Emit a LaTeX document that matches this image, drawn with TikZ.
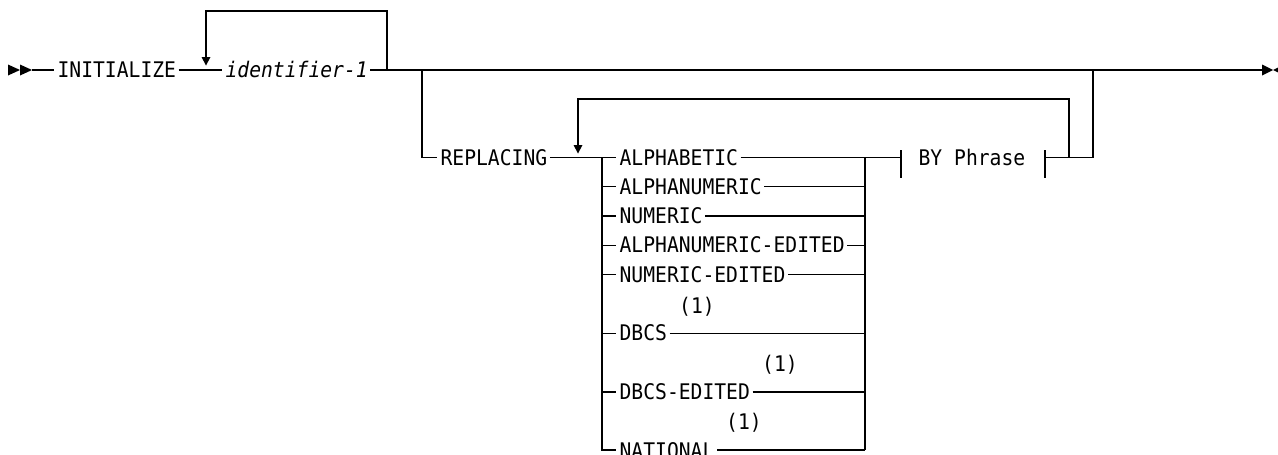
\documentclass[tikz,border=0pt]{standalone}
\usepackage{fontspec}
\setmonofont[FakeStretch=0.915]{DejaVu Sans Mono}
\begin{document}
\begin{tikzpicture}[x=1pt,y=-1pt,line width=1.25pt,
  kw/.style={font=\ttfamily\fontsize{21.5}{21.5}\selectfont,inner sep=0pt,anchor=base west},
  var/.style={kw,font=\ttfamily\itshape\fontsize{21.5}{21.5}\selectfont},
  note/.style={font=\ttfamily\fontsize{21.5}{21.5}\selectfont,inner sep=0pt,anchor=base},
  tip/.style={fill=black,draw=none}]
\useasboundingbox (0,0) rectangle (1278,455);
% text nodes
\node[kw]  (init) at (57,77.5) {INITIALIZE};
\node[var] (id)   at (225,77.5) {identifier-1};
\node[kw]  (repl) at (440,165) {REPLACING};
\node[kw]  (c1) at (619,165) {ALPHABETIC};
\node[kw]  (c2) at (619,194.3) {ALPHANUMERIC};
\node[kw]  (c3) at (619,223.6) {NUMERIC};
\node[kw]  (c4) at (619,252.9) {ALPHANUMERIC-EDITED};
\node[kw]  (c5) at (619,282.2) {NUMERIC-EDITED};
\node[note] (n1) at (697,313) {(1)};
\node[kw]  (c6) at (619,340.8) {DBCS};
\node[note] (n2) at (780,371) {(1)};
\node[kw]  (c7) at (619,399.4) {DBCS-EDITED};
\node[note] (n3) at (744,429) {(1)};
\node[kw]  (c8) at (619,458) {NATIONAL};
\node[kw]  (by) at (918,165) {BY Phrase};
% junction coordinates
\coordinate (s) at (32,70);
\coordinate (a1) at (206,70);
\coordinate (j1) at (387,70);
\coordinate (j2) at (422,70);
\coordinate (j3) at (1093,70);
\coordinate (e) at (1262,70);
\coordinate (b0) at (422,157.5);
\coordinate (a2) at (578,157.5);
\coordinate (L) at (602,157.5);
\coordinate (R) at (865,157.5);
\coordinate (byl) at (901,157.5);
\coordinate (byr) at (1045,157.5);
\coordinate (lp) at (1069,157.5);
\coordinate (rr) at (1093,157.5);
% start / end marks
\fill[tip] (8,64.5) -- (20,70) -- (8,75.5) -- cycle;
\fill[tip] (20,64.5) -- (32,70) -- (20,75.5) -- cycle;
\fill[tip] (e) ++(0,-5.5) -- ++(11,5.5) -- ++(-11,5.5) -- cycle;
\fill[tip] (1284,64.5) -- (1273,70) -- (1284,75.5) -- cycle;
% main line
\draw (s) -- ([xshift=-3pt]init.base west |- s);
\draw ([xshift=2pt]init.base east |- s) -- ([xshift=-3pt]id.base west |- s);
\draw ([xshift=2pt]id.base east |- s) -- (e);
% repeat loop over identifier-1
\draw (j1) -- (387,11) -- (206,11) -- (206,57);
\fill[tip] (201.5,57) -- (210.5,57) -- (206,65.5) -- cycle;
% REPLACING branch
\draw (j2) -- (b0) -- ([xshift=-3pt]repl.base west |- b0);
\draw ([xshift=2pt]repl.base east |- b0) -- ([xshift=-3pt]c1.base west |- b0);
\draw (lp) -- (1069,99) -- (578,99) -- (578,145);
\fill[tip] (573.5,145) -- (582.5,145) -- (578,153.5) -- cycle;
% choice stack
\draw (L) -- (602,450) -- ([xshift=-3pt]c8.base west |- 0,450);
\foreach \n/\y in {c2/186.8,c3/216.1,c4/245.4,c5/274.7,c6/333.3,c7/391.9}
  \draw (602,\y) -- ([xshift=-3pt]\n.base west |- 0,\y);
\foreach \n/\y in {c2/186.8,c3/216.1,c4/245.4,c5/274.7,c6/333.3,c7/391.9,c8/450}
  \draw ([xshift=2pt]\n.base east |- 0,\y) -- (865,\y);
\draw ([xshift=2pt]c1.base east |- L) -- (byl);
\draw (R) -- (865,450);
% BY Phrase fragment
\draw (901,150) -- (901,178);
\draw (1045,150) -- (1045,178);
\draw (byr) -- (rr) -- (j3);
\end{tikzpicture}
\end{document}
